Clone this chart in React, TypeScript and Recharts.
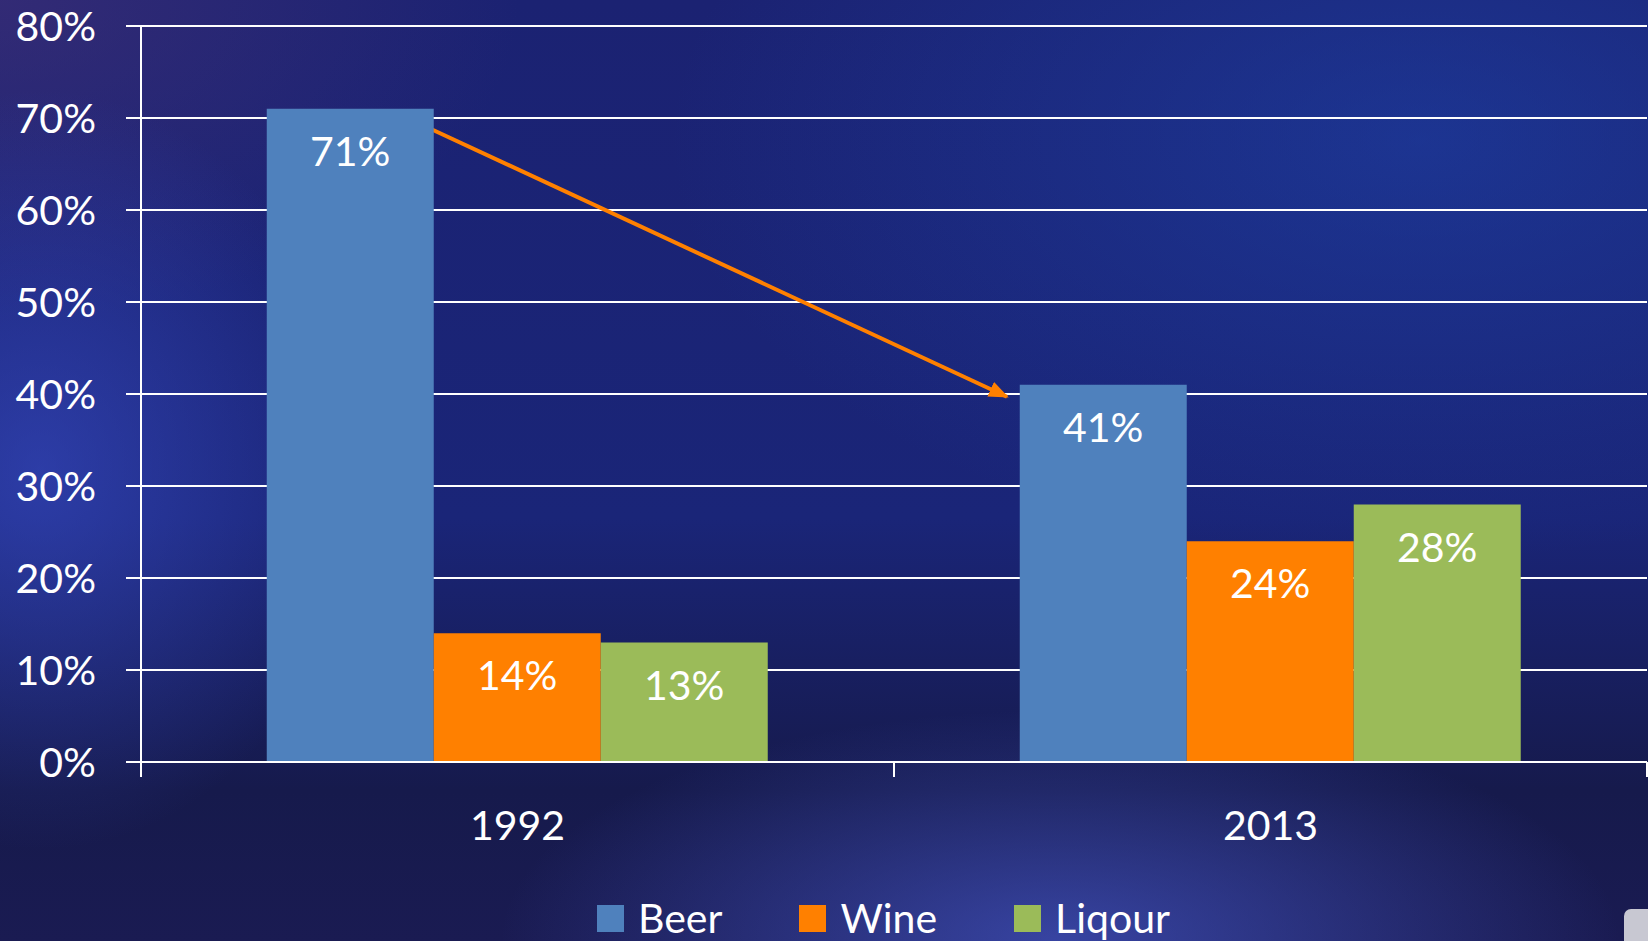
import React from 'react';
import * as Recharts from 'recharts';
import { BarChart, Bar, XAxis, YAxis, CartesianGrid, Legend, LabelList } from 'recharts';

const years = ['1992', '2013'];
const beer = [71, 41];
const wine = [14, 24];
const liqour = [13, 28];
const yTicks = [0, 10, 20, 30, 40, 50, 60, 70, 80];
const yMax = 80;

// arrow annotation: x in category bands (0..2), y in percent
const arrowFrom = { x: 0.38, y: 69 };
const arrowTo = { x: 1.15, y: 39.7 };

const series = [
    { key: 'beer', name: 'Beer', color: '#4f81bd' },
    { key: 'wine', name: 'Wine', color: '#ff8000' },
    { key: 'liqour', name: 'Liqour', color: '#9bbb59' },
];

const data = years.map((year, i) => ({ year, beer: beer[i], wine: wine[i], liqour: liqour[i] }));

const FONT = 'Lato, "Noto Sans", sans-serif';
const CHART_W = 1648;
const CHART_H = 941;
const MARGIN = { top: 26, right: 1, left: 0, bottom: 0 };
const Y_AXIS_W = 141;
const X_AXIS_H = 119;
const LEGEND_H = 60;

const YearTick = (props: any) => {
    const { x, y, payload, index } = props;
    const half = payload && payload.offset ? payload.offset : 376.5;
    return (
        <g>
            <line x1={x - half} y1={y} x2={x - half} y2={y + 15} stroke="#fff" strokeWidth={2} />
            {index === years.length - 1 && (
                <line x1={x + half} y1={y} x2={x + half} y2={y + 15} stroke="#fff" strokeWidth={2} />
            )}
            <text x={x} y={y + 78} textAnchor="middle" fill="#fff" fontSize={41} fontFamily={FONT}>
                {payload.value}
            </text>
        </g>
    );
};

const fallbackPlot = {
    x: MARGIN.left + Y_AXIS_W,
    y: MARGIN.top,
    width: CHART_W - MARGIN.left - MARGIN.right - Y_AXIS_W,
    height: CHART_H - MARGIN.top - MARGIN.bottom - X_AXIS_H - LEGEND_H,
};

const useArea = (Recharts as any).usePlotArea || (() => null);

const TrendArrow = () => {
    const area = useArea() || fallbackPlot;
    const bandW = area.width / years.length;
    const px = (p: { x: number; y: number }) => ({
        x: area.x + p.x * bandW,
        y: area.y + area.height * (1 - p.y / yMax),
    });
    const a = px(arrowFrom);
    const b = px(arrowTo);
    return (
        <g>
            <defs>
                <marker id="arrowHead" markerWidth="5" markerHeight="4" refX="4.5" refY="2" orient="auto" markerUnits="strokeWidth">
                    <path d="M0,0 L5,2 L0,4 z" fill="#ff8000" />
                </marker>
            </defs>
            <line x1={a.x} y1={a.y} x2={b.x} y2={b.y} stroke="#ff8000" strokeWidth={4} markerEnd="url(#arrowHead)" />
        </g>
    );
};

const renderLegend = () => (
    <div style={{ height: LEGEND_H, position: 'relative', fontFamily: FONT }}>
        <div style={{ position: 'absolute', left: 597, top: 15, display: 'flex', alignItems: 'center' }}>
            {series.map(s => (
                <div key={s.key} style={{ display: 'flex', alignItems: 'center', marginRight: 77 }}>
                    <div style={{ width: 27, height: 27, background: s.color, marginRight: 14 }} />
                    <span style={{ color: '#fff', fontSize: 41, lineHeight: '44px' }}>{s.name}</span>
                </div>
            ))}
        </div>
    </div>
);

const background = [
    'radial-gradient(ellipse 320px 380px at 40px 470px, rgba(60,80,205,0.55), transparent)',
    'radial-gradient(ellipse 560px 230px at 1060px 940px, rgba(75,95,215,0.6), transparent)',
    'radial-gradient(ellipse 750px 420px at 1420px 140px, rgba(30,70,175,0.5), transparent)',
    'radial-gradient(ellipse 520px 320px at 0px 0px, rgba(70,50,120,0.55), transparent)',
    'linear-gradient(180deg, #1b2272 0%, #1a2578 55%, #161a4c 84%, #1a1b52 100%)',
].join(', ');

const App: React.FC = () => {
    return (
        <div style={{ position: 'absolute', left: 0, top: 0, width: CHART_W, height: CHART_H, background, overflow: 'hidden' }}>
            <BarChart
                width={CHART_W}
                height={CHART_H}
                data={data}
                margin={MARGIN}
                barCategoryGap="16.7%"
                barGap={0}
            >
                <CartesianGrid vertical={false} stroke="#fff" strokeWidth={2} />
                <XAxis
                    dataKey="year"
                    height={X_AXIS_H}
                    axisLine={{ stroke: '#fff', strokeWidth: 2 }}
                    tickLine={false}
                    tickSize={0}
                    tickMargin={0}
                    tick={<YearTick />}
                    interval={0}
                />
                <YAxis
                    width={Y_AXIS_W}
                    domain={[0, yMax]}
                    ticks={yTicks}
                    interval={0}
                    tickFormatter={(v: number) => `${v}%`}
                    axisLine={{ stroke: '#fff', strokeWidth: 2 }}
                    tickLine={{ stroke: '#fff', strokeWidth: 2 }}
                    tickSize={15}
                    tickMargin={30}
                    tick={{ fill: '#fff', fontSize: 41, fontFamily: FONT }}
                />
                <Legend verticalAlign="bottom" height={LEGEND_H} content={renderLegend} />
                {series.map(s => (
                    <Bar key={s.key} dataKey={s.key} name={s.name} fill={s.color} isAnimationActive={false}>
                        <LabelList
                            dataKey={s.key}
                            position="insideTop"
                            offset={28}
                            fill="#fff"
                            fontSize={41}
                            fontFamily={FONT}
                            formatter={(v: any) => `${v}%`}
                        />
                    </Bar>
                ))}
                <TrendArrow />
            </BarChart>
            <div style={{ position: 'absolute', left: 1624, top: 909, width: 34, height: 40, background: '#c8c8d2', borderRadius: 7 }} />
        </div>
    );
};

export default App;
